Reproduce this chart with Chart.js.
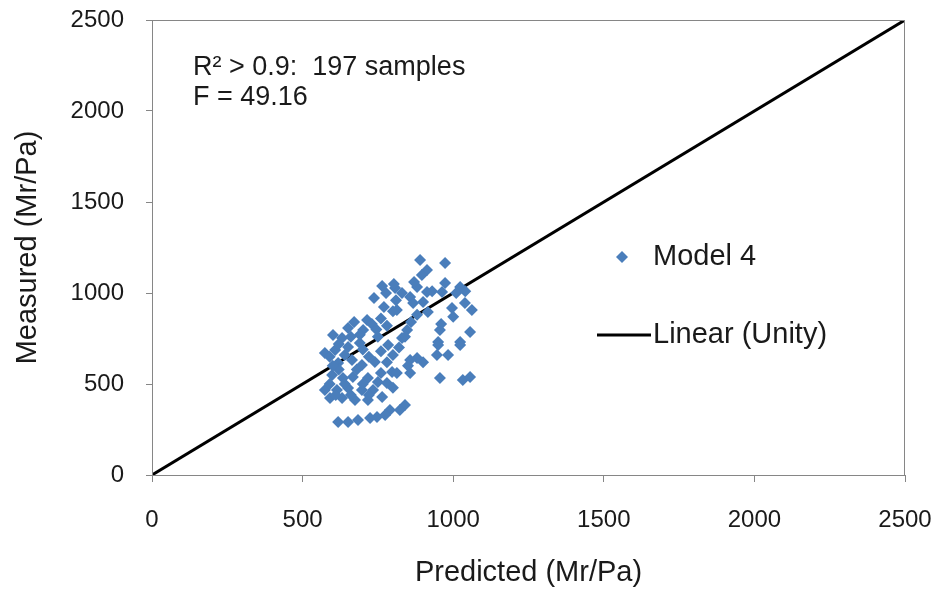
<!DOCTYPE html>
<html>
<head>
<meta charset="utf-8">
<script src="https://cdn.jsdelivr.net/npm/chart.js@4"></script>
<style>
  html, body { margin: 0; padding: 0; background: #fff; }
  #wrap { width: 940px; height: 592px; }
</style>
</head>
<body>
<div id="wrap"><canvas id="chart" width="940" height="592"></canvas></div>
<script>
// Model 4: predicted vs measured (Mr/Pa)
const predicted = [
  890, 973, 913, 896, 973, 1023, 880, 913, 963, 830, 857, 807, 867, 996, 1039, 916, 1062, 847, 956, 1056, 830, 950, 1023,
  764, 803, 737, 777, 770, 813, 671, 714, 651, 701, 601, 631,
  574, 608, 651, 690, 784, 800, 618, 664, 697, 740, 797, 598, 634, 667, 717, 750, 780, 574, 614, 651, 697, 734,
  591, 631, 674, 717, 764, 790, 774, 618, 651, 684, 724, 747,
  840, 823, 956, 1032, 1056, 950, 1023, 946, 983, 857, 880, 857, 813,
  730, 760, 745, 690, 660, 620, 590, 640, 700, 760, 720, 780, 820, 840, 860, 880, 900, 930, 1010, 1000,
  800, 780, 620, 600, 680, 760, 700, 640, 590, 660, 610, 720, 800, 850, 900, 960, 1040, 870, 810, 750
];
const measured = [
  1181, 1165, 1126, 1099, 1055, 1033, 1033, 1005, 1005, 1000, 978, 1027, 945, 918, 945, 896, 907, 797, 797, 786, 753, 731, 731,
  1038, 1049, 973, 1000, 923, 907, 841, 852, 808, 797, 769, 753,
  670, 687, 703, 725, 714, 659, 615, 632, 604, 621, 566, 549, 533, 538, 533, 511, 505, 467, 467, 478, 467, 467,
  423, 423, 412, 412, 429, 357, 330, 291, 291, 302, 313, 319,
  385, 357, 533, 522, 539, 714, 714, 659, 659, 632, 643, 560, 560,
  830, 860, 800, 770, 760, 720, 650, 660, 690, 680, 650, 620, 700, 760, 840, 880, 950, 1010, 1000, 870,
  900, 820, 580, 600, 580, 560, 500, 500, 500, 440, 440, 440, 480, 600, 620, 830, 1010, 1060, 960, 760
];
const unityX = [0, 2500];
const unityY = [0, 2500];
const axisTicks = [0, 500, 1000, 1500, 2000, 2500];
const noteLines = ['R\u00b2 > 0.9:  197 samples', 'F = 49.16'];

const FONT = '"Liberation Sans", Arial, sans-serif';
const TEXT = '#1a1a1a';
const AXIS = '#868686';
const BLUE = '#4a7ebb';

// legend + note text are drawn inside the plot area, like the original
const overlay = {
  id: 'overlay',
  afterDraw(chart) {
    const ctx = chart.ctx;
    const a = chart.chartArea;
    ctx.save();
    // plot frame
    ctx.strokeStyle = AXIS;
    ctx.lineWidth = 1;
    ctx.strokeRect(a.left + 0.5, a.top + 0.5, a.right - a.left - 1, a.bottom - a.top);

    ctx.fillStyle = TEXT;
    ctx.font = '27px ' + FONT;
    ctx.textBaseline = 'middle';
    ctx.textAlign = 'left';
    noteLines.forEach((t, i) => ctx.fillText(t, a.left + 41, a.top + 48 + i * 30));

    // legend
    const ds = chart.data.datasets;
    const lx = a.left + 501;
    ctx.fillStyle = ds[0].backgroundColor;
    const mx = a.left + 470, my = a.top + 237;
    ctx.beginPath();
    ctx.moveTo(mx, my - 6); ctx.lineTo(mx + 6, my); ctx.lineTo(mx, my + 6); ctx.lineTo(mx - 6, my);
    ctx.closePath(); ctx.fill();
    ctx.fillStyle = TEXT;
    ctx.font = '29px ' + FONT;
    ctx.fillText(ds[0].label, lx, my);

    const ly = a.top + 315;
    ctx.strokeStyle = ds[1].borderColor;
    ctx.lineWidth = 3;
    ctx.beginPath(); ctx.moveTo(a.left + 445, ly); ctx.lineTo(a.left + 499, ly); ctx.stroke();
    ctx.fillText(ds[1].label, lx, ly);
    ctx.restore();
  }
};

new Chart(document.getElementById('chart'), {
  type: 'scatter',
  data: {
    datasets: [{
      label: 'Model 4',
      data: predicted.map((x, i) => ({ x: x, y: measured[i] })),
      backgroundColor: BLUE,
      borderColor: BLUE,
      pointStyle: 'rectRot',
      pointRadius: 6,
      borderWidth: 0
    }, {
      label: 'Linear (Unity)',
      type: 'line',
      data: unityX.map((x, i) => ({ x: x, y: unityY[i] })),
      borderColor: '#000',
      borderWidth: 3,
      pointRadius: 0,
      fill: false
    }]
  },
  options: {
    responsive: false,
    animation: false,
    layout: { padding: { top: 20, right: 35, left: 0, bottom: 0 } },
    plugins: { legend: { display: false }, tooltip: { enabled: false } },
    scales: {
      x: {
        type: 'linear', min: 0, max: 2500,
        afterBuildTicks: s => { s.ticks = axisTicks.map(v => ({ value: v })); },
        afterFit: s => { s.height = 117; s.paddingLeft = 0; s.paddingRight = 0; },
        grid: { drawOnChartArea: false, drawTicks: true, tickLength: 7, color: AXIS },
        border: { color: AXIS },
        ticks: { color: TEXT, font: { family: FONT, size: 24 }, padding: 24, maxRotation: 0, callback: v => String(v) },
        title: { display: true, text: 'Predicted (Mr/Pa)', color: TEXT, font: { family: FONT, size: 29 }, padding: { bottom: 2, top: 0 } }
      },
      y: {
        type: 'linear', min: 0, max: 2500,
        afterBuildTicks: s => { s.ticks = axisTicks.map(v => ({ value: v })); },
        afterFit: s => { s.width = 152; s.paddingTop = 0; s.paddingBottom = 0; },
        grid: { drawOnChartArea: false, drawTicks: true, tickLength: 6, color: AXIS },
        border: { color: AXIS },
        ticks: { color: TEXT, font: { family: FONT, size: 24 }, padding: 22, callback: v => String(v) },
        title: { display: true, text: 'Measured (Mr/Pa)', color: TEXT, font: { family: FONT, size: 29 }, padding: { top: 11, bottom: 0 } }
      }
    }
  },
  plugins: [overlay]
});
</script>
</body>
</html>
